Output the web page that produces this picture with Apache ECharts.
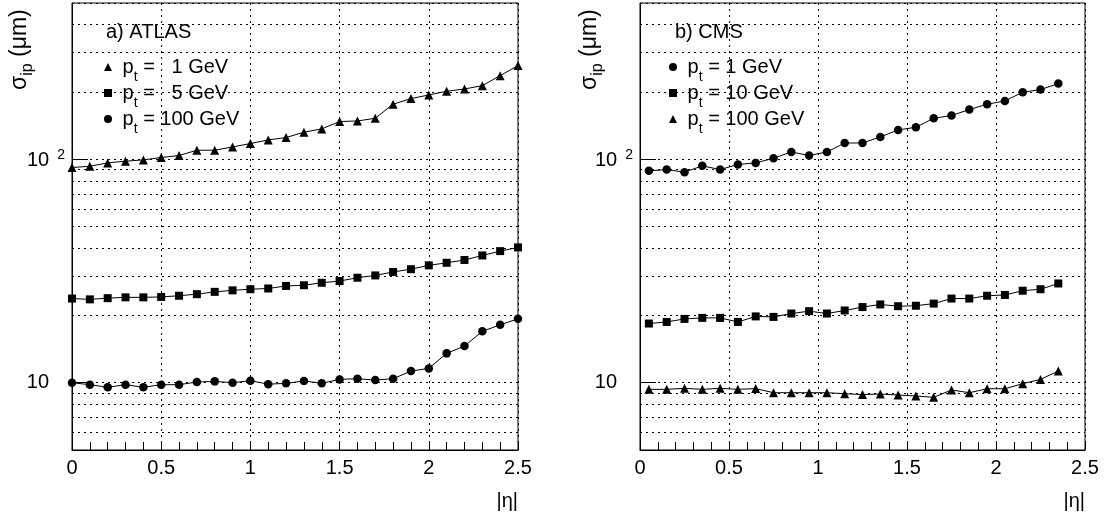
<!DOCTYPE html>
<html>
<head>
<meta charset="utf-8">
<script src="https://cdn.jsdelivr.net/npm/echarts@6/dist/echarts.min.js"></script>
<style>
html, body { margin: 0; padding: 0; background: #fff; }
#main { width: 1104px; height: 520px; }
</style>
</head>
<body>
<div id="main"></div>
<script>
// a) ATLAS, points every 0.1 in |eta|
var etaAtlas = [0, 0.1, 0.2, 0.3, 0.4, 0.5, 0.6, 0.7, 0.8, 0.9, 1.0, 1.1, 1.2, 1.3, 1.4, 1.5, 1.6, 1.7, 1.8, 1.9, 2.0, 2.1, 2.2, 2.3, 2.4, 2.5];
var atlas1 = [91.8, 93.0, 96.3, 98.0, 99.3, 101.8, 103.9, 109.7, 109.7, 113.5, 117.5, 122.0, 125.0, 132.1, 136.7, 147.4, 148.3, 152.5, 176.2, 186.8, 193.8, 201.4, 206.2, 213.4, 236.6, 262.3];
var atlas5 = [23.8, 23.6, 23.9, 24.1, 24.1, 24.2, 24.5, 24.9, 25.5, 25.9, 26.2, 26.4, 27.1, 27.3, 28.0, 28.5, 29.5, 30.2, 31.3, 32.2, 33.5, 34.4, 35.4, 37.1, 38.8, 40.3];
var atlas100 = [10.0, 9.8, 9.54, 9.8, 9.54, 9.8, 9.8, 10.07, 10.14, 10.0, 10.21, 9.85, 9.94, 10.18, 9.94, 10.35, 10.42, 10.28, 10.42, 11.27, 11.59, 13.53, 14.59, 16.98, 18.16, 19.32];

// b) CMS, bin centres
var etaCms = [0.05, 0.15, 0.25, 0.35, 0.45, 0.55, 0.65, 0.75, 0.85, 0.95, 1.05, 1.15, 1.25, 1.35, 1.45, 1.55, 1.65, 1.75, 1.85, 1.95, 2.05, 2.15, 2.25, 2.35];
var cms1 = [88.7, 89.9, 87.5, 93.4, 89.9, 94.7, 96.3, 101.0, 107.8, 103.9, 107.8, 118.1, 118.3, 125.8, 135.2, 139.0, 152.5, 156.8, 166.8, 176.2, 182.3, 199.3, 204.9, 217.9];
var cms10 = [18.4, 18.7, 19.3, 19.5, 19.5, 18.7, 19.8, 19.7, 20.4, 20.9, 20.4, 21.05, 21.8, 22.4, 22.0, 22.1, 22.6, 23.8, 23.8, 24.5, 24.7, 25.8, 26.2, 27.8];
var cms100 = [9.34, 9.34, 9.44, 9.34, 9.44, 9.34, 9.41, 9.02, 9.02, 9.02, 9.02, 8.93, 8.85, 8.90, 8.81, 8.72, 8.60, 9.28, 9.02, 9.40, 9.40, 9.90, 10.35, 11.28];

var xTicks = [0, 0.5, 1, 1.5, 2, 2.5];
var minorGrid = [6, 7, 8, 9, 20, 30, 40, 50, 60, 70, 80, 90, 200, 300, 400];

var atlasNames = ['a1', 'a5', 'a100'];
var atlasLabels = ['=   1 GeV', '=   5 GeV', '= 100 GeV'];
var cmsNames = ['c1', 'c10', 'c100'];
var cmsLabels = ['= 1 GeV', '= 10 GeV', '= 100 GeV'];

var font = '"Liberation Sans", Arial, Helvetica, sans-serif';
var black = '#000';
var dots = [2, 4];

var myChart = echarts.init(document.getElementById('main'));

function makeSeries(name, xs, ys, sym, size, idx, withGrid) {
    var s = {
        name: name,
        type: 'line',
        xAxisIndex: idx,
        yAxisIndex: idx,
        data: xs.map(function (x, i) { return [x, ys[i]]; }),
        symbol: sym,
        symbolSize: size,
        showAllSymbol: true,
        lineStyle: { color: black, width: 1 },
        itemStyle: { color: black },
        emphasis: { disabled: true },
        z: 5
    };
    if (withGrid) {
        // minor log gridlines (2..9 x 10^n)
        s.markLine = {
            silent: true,
            symbol: 'none',
            animation: false,
            label: { show: false },
            lineStyle: { color: black, width: 1, type: dots },
            data: minorGrid.map(function (v) { return { yAxis: v }; })
        };
    }
    return s;
}

function xAxisFor(idx) {
    return {
        type: 'value',
        gridIndex: idx,
        min: 0,
        max: 2.5,
        interval: 0.5,
        axisLine: { show: true, lineStyle: { color: black, width: 1 } },
        axisTick: { show: true, inside: true, length: 8, lineStyle: { color: black } },
        minorTick: { show: true, splitNumber: 5, length: 8, lineStyle: { color: black } },
        splitLine: { show: true, lineStyle: { color: black, width: 1, type: dots } },
        axisLabel: {
            color: black, fontSize: 20, fontFamily: font, margin: 8,
            formatter: function (v) {
                for (var i = 0; i < xTicks.length; i++) {
                    if (Math.abs(v - xTicks[i]) < 1e-6) return String(xTicks[i]);
                }
                return '';
            }
        }
    };
}

function yAxisFor(idx) {
    return {
        type: 'log',
        logBase: 10,
        gridIndex: idx,
        min: 5,
        max: 500,
        axisLine: { show: true, lineStyle: { color: black, width: 1 } },
        axisTick: { show: true, inside: true, length: 16, lineStyle: { color: black } },
        splitLine: { show: true, lineStyle: { color: black, width: 1, type: dots } },
        axisLabel: {
            showMinLabel: false,
            showMaxLabel: false,
            margin: 7,
            formatter: function (v) {
                if (Math.abs(v - 100) < 1e-6) return '{a|10}{s|2}';
                if (Math.abs(v - 10) < 1e-6) return '{b|10}';
                return '';
            },
            rich: {
                a: { fontSize: 20, fontFamily: font, color: black, padding: [3, 0, 0, 0] },
                s: { fontSize: 14, fontFamily: font, color: black, verticalAlign: 'top', padding: [0, 0, 0, 8] },
                b: { fontSize: 20, fontFamily: font, color: black, padding: [0, 16, 0, 0] }
            }
        }
    };
}

var legendRich = {
    n: { fontSize: 20, fontFamily: font, color: black, lineHeight: 20, verticalAlign: 'top' },
    t: { fontSize: 14, fontFamily: font, color: black, lineHeight: 14, verticalAlign: 'top', padding: [13, 0, 0, 0] }
};

function legendFor(left, names, labels, icons) {
    return {
        left: left,
        top: 57,
        orient: 'vertical',
        padding: 0,
        itemWidth: 8,
        itemHeight: 8,
        itemGap: -1,
        selectedMode: false,
        data: names.map(function (n, i) { return { name: n, icon: icons[i] }; }),
        formatter: function (name) {
            return '{n| p}{t|t}{n| ' + labels[names.indexOf(name)] + '}';
        },
        textStyle: { rich: legendRich }
    };
}

var titleStyle = { fontSize: 20, fontWeight: 'normal', color: black, fontFamily: font };

var yTitleRich = {
    s: { fontSize: 23, fontFamily: font, fill: black, lineHeight: 23, verticalAlign: 'top' },
    i: { fontSize: 16, fontFamily: font, fill: black, lineHeight: 16, verticalAlign: 'top', padding: [12, 0, 0, 0] }
};

var option = {
    animation: false,
    backgroundColor: '#fff',
    title: [
        { text: 'a) ATLAS', left: 106, top: 22, padding: 0, textStyle: titleStyle },
        { text: 'b) CMS', left: 675, top: 22, padding: 0, textStyle: titleStyle }
    ],
    legend: [
        legendFor(104, atlasNames, atlasLabels, ['triangle', 'rect', 'circle']),
        legendFor(669, cmsNames, cmsLabels, ['circle', 'rect', 'triangle'])
    ],
    grid: [
        { left: 72, right: 586, top: 3, bottom: 70, show: true, borderColor: black, borderWidth: 1 },
        { left: 640, right: 19, top: 3, bottom: 70, show: true, borderColor: black, borderWidth: 1 }
    ],
    xAxis: [xAxisFor(0), xAxisFor(1)],
    yAxis: [yAxisFor(0), yAxisFor(1)],
    series: [
        makeSeries('a1', etaAtlas, atlas1, 'triangle', 9, 0, true),
        makeSeries('a5', etaAtlas, atlas5, 'rect', 8, 0, false),
        makeSeries('a100', etaAtlas, atlas100, 'circle', 8.5, 0, false),
        makeSeries('c1', etaCms, cms1, 'circle', 8.5, 1, true),
        makeSeries('c10', etaCms, cms10, 'rect', 8, 1, false),
        makeSeries('c100', etaCms, cms100, 'triangle', 9, 1, false)
    ],
    graphic: [
        { type: 'text', x: 518, y: 501, style: { text: '|η|', fontSize: 20, fontFamily: font, fill: black, align: 'right', verticalAlign: 'middle' } },
        { type: 'text', x: 1085, y: 501, style: { text: '|η|', fontSize: 20, fontFamily: font, fill: black, align: 'right', verticalAlign: 'middle' } },
        { type: 'text', x: 8, y: 90, rotation: Math.PI / 2, style: { text: '{s|σ}{i|ip}{s| (μm)}', rich: yTitleRich, align: 'left', verticalAlign: 'top' } },
        { type: 'text', x: 578, y: 90, rotation: Math.PI / 2, style: { text: '{s|σ}{i|ip}{s| (μm)}', rich: yTitleRich, align: 'left', verticalAlign: 'top' } }
    ]
};

myChart.setOption(option);
</script>
</body>
</html>
